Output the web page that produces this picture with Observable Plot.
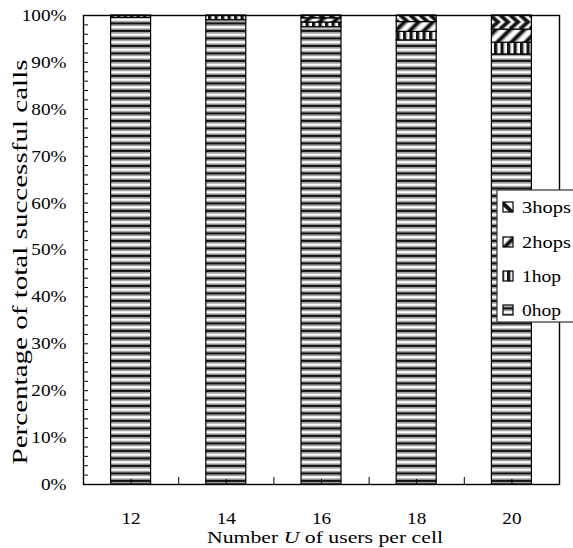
<!DOCTYPE html>
<html><head><meta charset="utf-8">
<script src="https://cdn.jsdelivr.net/npm/d3@7"></script>
<script src="https://cdn.jsdelivr.net/npm/@observablehq/plot@0.6"></script>
<style>
body{margin:0;background:#fff;color:#000;}
svg text{font-family:"Liberation Serif","Times New Roman",serif;}
</style></head><body><div id="chart"></div>
<script>
// ---- data ----
const users = [12, 14, 16, 18, 20];
const hops = ["0hop", "1hop", "2hops", "3hops"];
const hop0 = [99.5, 99.0, 97.5, 94.7, 91.7];
const hop1 = [0.5, 1.0, 1.0, 1.8, 2.5];
const hop2 = [0, 0, 0.9, 2.1, 2.8];
const hop3 = [0, 0, 0.6, 1.4, 3.0];
const yTicks = [0, 10, 20, 30, 40, 50, 60, 70, 80, 90, 100];
const yMinorTicks = d3.range(0, 101, 2);
const xTickLabels = ["12", "14", "16", "18", "20"];
const xBoundaryTicks = [13, 15, 17, 19];
const yLabel = "Percentage of total successful calls";
const xLabelParts = ["Number ", "U", " of users per cell"];
const patternIds = ["p0", "p1", "p2", "p3"];

const series = [hop0, hop1, hop2, hop3];
const rows = [];
users.forEach((u, i) => series.forEach((s, k) => {
  if (s[i] > 0) rows.push({U: u, hop: hops[k], value: s[i]});
}));
const halfBar = 0.42;

const svg = Plot.plot({
  width: 573,
  height: 548,
  marginLeft: 83,
  marginRight: 14,
  marginTop: 15,
  marginBottom: 64,
  style: {fontFamily: "Liberation Serif, serif", fontSize: "17px", background: "#fff"},
  x: {domain: [11, 21]},
  y: {domain: [0, 100]},
  color: {domain: hops, range: patternIds.map(id => `url(#${id})`)},
  marks: [
    Plot.rectY(rows, Plot.stackY({
      x: "U",
      x1: d => d.U - halfBar,
      x2: d => d.U + halfBar,
      y: "value",
      fill: "hop",
      stroke: "#000",
      strokeWidth: 1.2
    })),
    Plot.frame({stroke: "#000", strokeWidth: 1.4}),
    Plot.axisY({ticks: yMinorTicks, tickSize: -5, tickFormat: () => "", label: null}),
    Plot.axisY({ticks: yTicks, tickSize: 0, tickPadding: 17, tickFormat: d => d + "%", fontSize: 17, label: null}),
    Plot.axisX({ticks: users, tickSize: -5, tickFormat: () => "", label: null}),
    Plot.axisX({ticks: xBoundaryTicks, tickSize: -7, tickFormat: () => "", label: null}),
    Plot.axisX({ticks: users, tickSize: 0, tickPadding: 27, tickFormat: (d, i) => xTickLabels[i], fontSize: 17, label: null})
  ]
});

const S = d3.select(svg);
const defs = S.insert("defs", ":first-child");
function pat(id, w, h, transform) {
  const p = defs.append("pattern").attr("id", id).attr("patternUnits", "userSpaceOnUse")
    .attr("width", w).attr("height", h);
  if (transform) p.attr("patternTransform", transform);
  p.append("rect").attr("width", w).attr("height", h).attr("fill", "#fff");
  return p;
}
// 0hop: horizontal stripes
const p0 = pat("p0", 8, 7.5);
p0.append("rect").attr("y", 0).attr("width", 8).attr("height", 2).attr("fill", "#141414");
p0.append("rect").attr("y", 2).attr("width", 8).attr("height", 1.5).attr("fill", "#8c8c8c");
p0.append("rect").attr("y", 6).attr("width", 8).attr("height", 1.5).attr("fill", "#8c8c8c");
// 1hop: vertical stripes
const p1 = pat("p1", 6.5, 10);
p1.append("rect").attr("width", 3.2).attr("height", 10).attr("fill", "#141414");
p1.append("rect").attr("x", 3.2).attr("width", 0.8).attr("height", 10).attr("fill", "#888");
// 2hops: wide upward diagonal
const p2 = pat("p2", 10, 10, "rotate(45)");
p2.append("rect").attr("width", 3.5).attr("height", 10).attr("fill", "#141414");
p2.append("rect").attr("x", 3.5).attr("width", 1.2).attr("height", 10).attr("fill", "#999");
p2.append("rect").attr("x", 8.8).attr("width", 1.2).attr("height", 10).attr("fill", "#999");
// 3hops: chevrons
const p3 = pat("p3", 10, 14, "translate(0,15)");
[-10, 0, 10].forEach(x0 => {
  p3.append("path").attr("d", `M${x0},0L${x0 + 8},7L${x0},14`).attr("fill", "none")
    .attr("stroke", "#999").attr("stroke-width", 5);
  p3.append("path").attr("d", `M${x0},0L${x0 + 8},7L${x0},14`).attr("fill", "none")
    .attr("stroke", "#141414").attr("stroke-width", 3);
});
// legend swatch for 3hops: wide downward diagonal
const p3s = pat("p3s", 10, 10, "rotate(-45)");
p3s.append("rect").attr("width", 4).attr("height", 10).attr("fill", "#141414");

// axis titles
S.append("text")
  .attr("transform", "translate(27,262) rotate(-90)")
  .attr("text-anchor", "middle").attr("font-size", 20)
  .attr("textLength", 405).attr("lengthAdjust", "spacingAndGlyphs")
  .attr("fill", "#000").text(yLabel);
const xl = S.append("text").attr("x", 325).attr("y", 543)
  .attr("text-anchor", "middle").attr("font-size", 17.5)
  .attr("textLength", 236).attr("lengthAdjust", "spacingAndGlyphs").attr("fill", "#000");
xLabelParts.forEach((t, i) => xl.append("tspan").attr("font-style", i === 1 ? "italic" : null).text(t));

// legend (overlaying the plot, as in the reference)
const lg = S.append("g");
lg.append("rect").attr("x", 497).attr("y", 190).attr("width", 100).attr("height", 132)
  .attr("fill", "#fff").attr("stroke", "#333").attr("stroke-width", 1.2);
const legendItems = [
  {label: "3hops", fill: "url(#p3s)", len: 49},
  {label: "2hops", fill: "url(#p2)", len: 49},
  {label: "1hop", fill: "url(#p1)", len: 39},
  {label: "0hop", fill: "url(#p0)", len: 39}
];
const rowY = [207, 242, 276, 310];
legendItems.forEach((it, i) => {
  lg.append("rect").attr("x", 503).attr("y", rowY[i] - 5).attr("width", 10).attr("height", 10)
    .attr("fill", it.fill).attr("stroke", "#000").attr("stroke-width", 1.2);
  lg.append("text").attr("x", 522).attr("y", rowY[i] + 6).attr("font-size", 17)
    .attr("text-anchor", "start").attr("lengthAdjust", "spacingAndGlyphs")
    .attr("textLength", it.len).attr("fill", "#000").text(it.label);
});

document.getElementById("chart").appendChild(svg);

// the reference's lettering is slightly widened: stretch tick labels a little
S.selectAll('g[aria-label="y-axis tick label"] text, g[aria-label="x-axis tick label"] text').each(function () {
  const L = this.getComputedTextLength();
  if (L > 0) {
    this.setAttribute("textLength", L * 1.13);
    this.setAttribute("lengthAdjust", "spacingAndGlyphs");
  }
});
</script>
</body></html>
